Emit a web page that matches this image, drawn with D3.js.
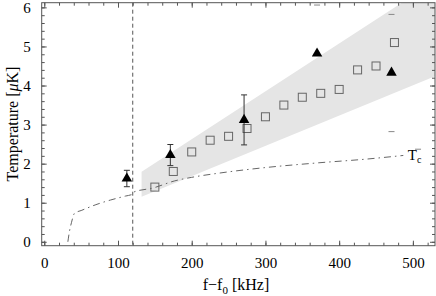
<!DOCTYPE html>
<html><head><meta charset="utf-8">
<script src="https://cdn.jsdelivr.net/npm/d3@7"></script>
<style>body{margin:0;background:#fff}svg{display:block}text{font-family:"Liberation Serif","DejaVu Serif",serif}</style>
</head><body>
<svg id="c" width="436" height="296"></svg>
<script>
// ---- data ----
const xMajorTicks = [0,100,200,300,400,500];
const yMajorTicks = [0,1,2,3,4,5,6];
const squareX = [150,175,200,225,250,275,300,325,350,375,400,425,450,475];
const squareY = [1.40,1.80,2.30,2.60,2.70,2.90,3.20,3.50,3.70,3.80,3.90,4.40,4.50,5.10];
const triX = [112,171,271,370,471];
const triY = [1.62,2.22,3.12,4.82,4.33];
const triErr = [0.21,0.27,0.64,0,0];
const capX = [370,471,471,507];
const capY = [6.06,5.82,2.82,2.37];
const bandX = [132,530];
const bandLow = [1.15,4.24];
const bandHigh = [1.79,6.67];
const tcX = [32,34,37,41,50,70,90,110,120,121,148,177,200,238,300,371,439,487];
const tcY = [0,0.25,0.5,0.73,0.8,0.95,1.07,1.17,1.22,1.27,1.38,1.56,1.65,1.76,1.9,2.02,2.12,2.21];
const cutoffX = 120;

const svg = d3.select("#c");
const L=41.7, R=435, T=2.7, B=245.7;
const x = d3.scaleLinear().domain([-3.5,530]).range([L,R]);
const y = d3.scaleLinear().domain([-0.1,6.12]).range([B,T]);

svg.append("clipPath").attr("id","clip").append("rect")
  .attr("x",L).attr("y",T).attr("width",R-L).attr("height",B-T);
const g = svg.append("g").attr("clip-path","url(#clip)");

// band
const bandPts = [[bandX[0],bandLow[0]],[bandX[1],bandLow[1]],[bandX[1],bandHigh[1]],[bandX[0],bandHigh[0]]];
g.append("path").attr("d", d3.line().x(d=>x(d[0])).y(d=>y(d[1]))(bandPts)+"Z")
  .attr("fill","#e5e5e5");

// cutoff dashed line
g.append("line").attr("x1",x(cutoffX)).attr("x2",x(cutoffX)).attr("y1",T).attr("y2",B)
  .attr("stroke","#555").attr("stroke-width",1).attr("stroke-dasharray","4,3");

// Tc curve
const tc = tcX.map((v,i)=>[v,tcY[i]]);
g.append("path").attr("d", d3.line().x(d=>x(d[0])).y(d=>y(d[1])).curve(d3.curveMonotoneX)(tc))
  .attr("fill","none").attr("stroke","#666").attr("stroke-width",1).attr("stroke-dasharray","7,4,1.5,4");

// squares
const sq = 8;
g.selectAll(".sq").data(squareX).join("rect")
  .attr("x",(d)=>x(d)-sq/2).attr("y",(d,i)=>y(squareY[i])-sq/2)
  .attr("width",sq).attr("height",sq).attr("fill","none").attr("stroke","#666").attr("stroke-width",1);

// caps (isolated)
g.selectAll(".cap").data(capX).join("line")
  .attr("x1",d=>x(d)-3).attr("x2",d=>x(d)+3)
  .attr("y1",(d,i)=>y(capY[i])).attr("y2",(d,i)=>y(capY[i]))
  .attr("stroke","#888").attr("stroke-width",1);

// error bars
triX.forEach((v,i)=>{
  if(!triErr[i]) return;
  const cx=x(v), y1=y(triY[i]-triErr[i]), y2=y(triY[i]+triErr[i]);
  g.append("line").attr("x1",cx).attr("x2",cx).attr("y1",y1).attr("y2",y2).attr("stroke","#333").attr("stroke-width",1);
  [y1,y2].forEach(yy=>g.append("line").attr("x1",cx-3).attr("x2",cx+3).attr("y1",yy).attr("y2",yy).attr("stroke","#333").attr("stroke-width",1));
});
// triangles
const tri = d3.symbol().type(d3.symbolTriangle).size(48);
g.selectAll(".tri").data(triX).join("path")
  .attr("transform",(d,i)=>`translate(${x(d)},${y(triY[i])})`)
  .attr("d",tri).attr("fill","#000");

// axes (ticks inward)
const axisColor="#555";
const xMinor = d3.range(-0,531,20);
const yMinor = d3.range(0,6.1,0.2);
function styleAxis(sel){
  sel.attr("font-family","Liberation Serif, serif").attr("font-size",15);
  sel.select(".domain").remove();
  sel.selectAll("line").attr("stroke",axisColor);
  sel.selectAll("text").attr("fill","#000");
}
const fmt = d3.format("d");
svg.append("g").attr("transform",`translate(0,${B})`)
  .call(d3.axisBottom(x).tickValues(xMinor).tickSize(-3).tickFormat("")).call(styleAxis);
svg.append("g").attr("transform",`translate(0,${B})`)
  .call(d3.axisBottom(x).tickValues(xMajorTicks).tickSize(-5).tickPadding(12).tickFormat(fmt)).call(styleAxis);
svg.append("g").attr("transform",`translate(0,${T})`)
  .call(d3.axisTop(x).tickValues(xMinor).tickSize(-3).tickFormat("")).call(styleAxis);
svg.append("g").attr("transform",`translate(0,${T})`)
  .call(d3.axisTop(x).tickValues(xMajorTicks).tickSize(-5).tickFormat("")).call(styleAxis);
svg.append("g").attr("transform",`translate(${L},0)`)
  .call(d3.axisLeft(y).tickValues(yMinor).tickSize(-3).tickFormat("")).call(styleAxis);
svg.append("g").attr("transform",`translate(${L},0)`)
  .call(d3.axisLeft(y).tickValues(yMajorTicks).tickSize(-5).tickPadding(11).tickFormat(fmt)).call(styleAxis);
svg.append("g").attr("transform",`translate(${R},0)`)
  .call(d3.axisRight(y).tickValues(yMinor).tickSize(-3).tickFormat("")).call(styleAxis);
svg.append("g").attr("transform",`translate(${R},0)`)
  .call(d3.axisRight(y).tickValues(yMajorTicks).tickSize(-5).tickFormat("")).call(styleAxis);

svg.append("rect").attr("x",L).attr("y",T).attr("width",R-L).attr("height",B-T)
  .attr("fill","none").attr("stroke",axisColor).attr("stroke-width",1);

// labels
const yl = svg.append("text").attr("transform",`translate(18,124) rotate(-90)`)
  .attr("text-anchor","middle").attr("font-size",16);
yl.append("tspan").text("Temperature [");
yl.append("tspan").attr("font-style","italic").text("μ");
yl.append("tspan").text("K]");

const xl = svg.append("text").attr("x",236).attr("y",290).attr("text-anchor","middle").attr("font-size",16);
xl.append("tspan").text("f−f");
xl.append("tspan").attr("font-size",11).attr("dy",4).text("0");
xl.append("tspan").attr("dy",-4).text(" [kHz]");

const tl = svg.append("text").attr("x",x(493)).attr("y",y(2.22)+5).attr("font-size",15);
tl.append("tspan").text("T");
tl.append("tspan").attr("font-size",10).attr("dy",3).text("c");
</script>
</body></html>
